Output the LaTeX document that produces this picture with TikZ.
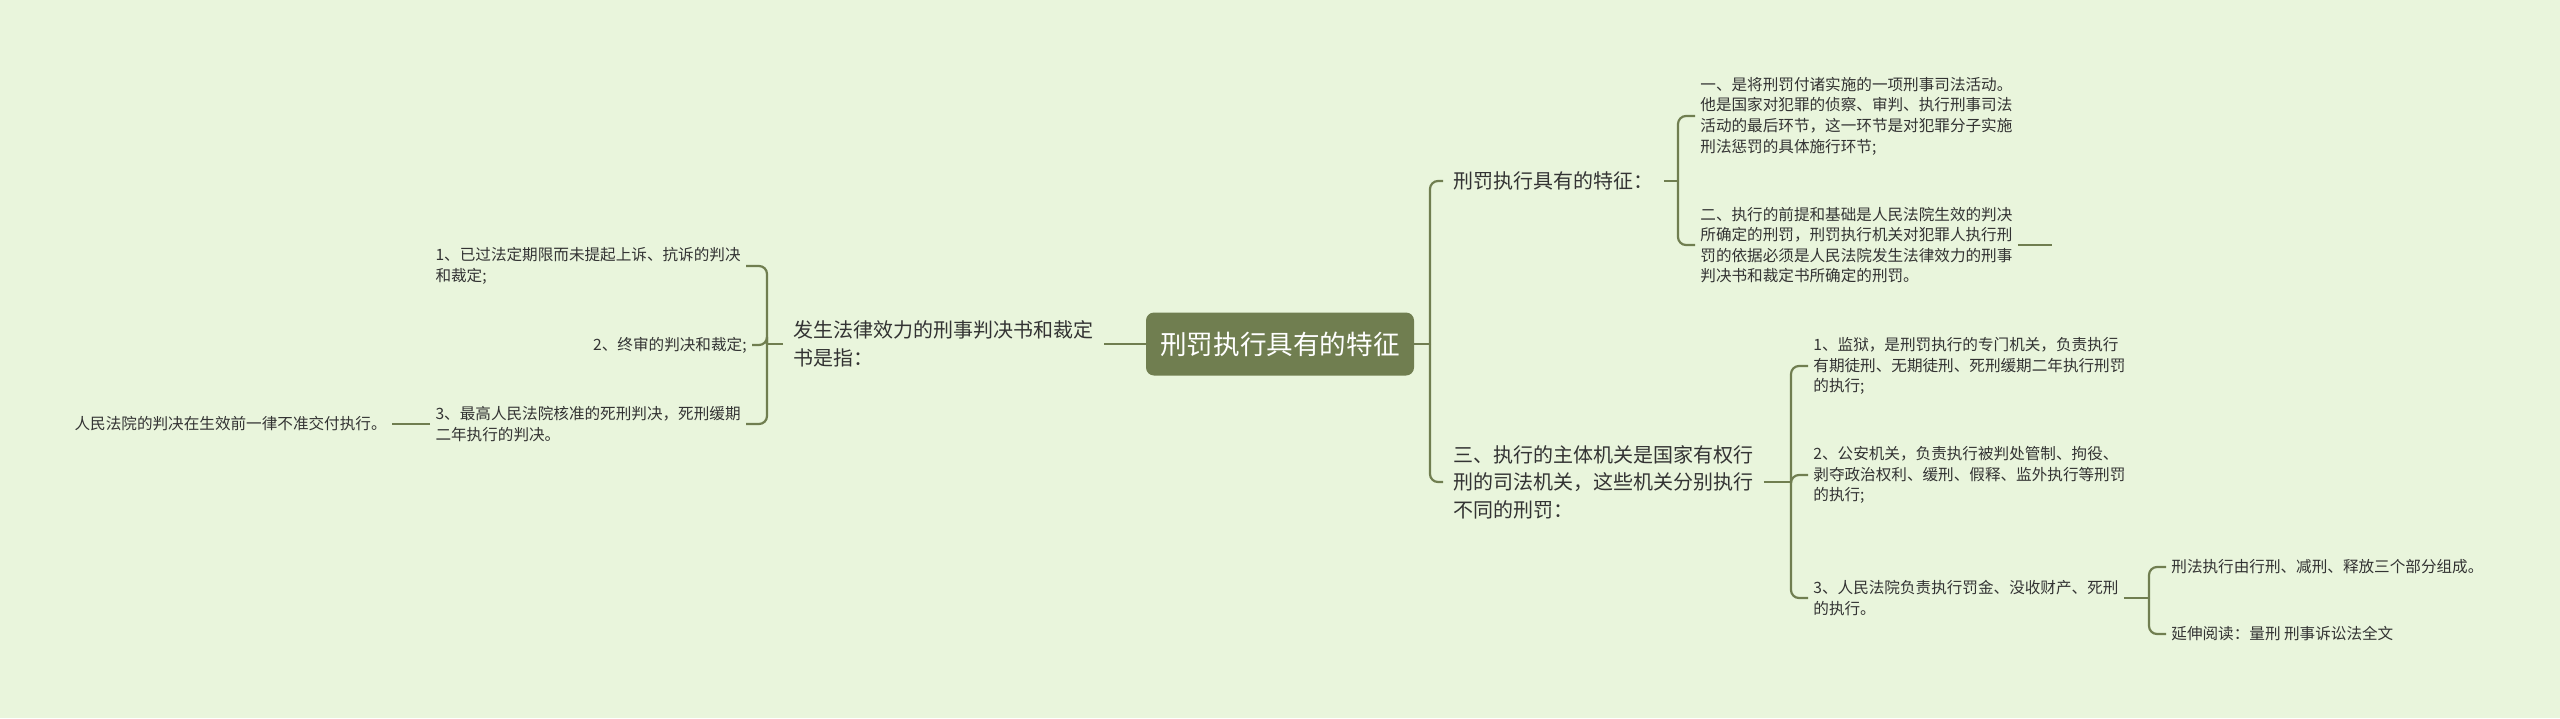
\documentclass[tikz,border=0pt]{standalone}
\usepackage{fontspec}
\usepackage{tikz}
\newfontfamily\cjk{Noto Sans CJK SC}
\definecolor{paper}{HTML}{E9F5DC}
\definecolor{stem}{HTML}{707E50}
\definecolor{ink}{HTML}{333333}

\begin{document}
\begin{tikzpicture}[x=0.5pt,y=-0.5pt,every node/.style={font=\cjk,text=ink},
    link/.style={draw=stem,line width=1.1pt,rounded corners=4pt},
    topic/.style={fill=stem,rounded corners=4pt,minimum width=134pt,minimum height=31.5pt,text=white,font=\cjk\fontsize{13.3}{16}\selectfont},
    branch/.style={inner xsep=5pt,inner ysep=2pt,align=left,font=\cjk\fontsize{10}{13.75}\selectfont},
    leaf/.style={inner xsep=2.5pt,inner ysep=2pt,align=left,font=\cjk\fontsize{7.8}{10.3}\selectfont}]
    \fill[paper] (0,0) rectangle (2560,718);
    \node[topic] (root) at (1280,344) {刑罚执行具有的特征};
    % left side
    \node[branch,anchor=west] (judg) at (783,344) {发生法律效力的刑事判决书和裁定\\书是指：};
    \node[leaf,anchor=east] (judg1) at (746,266) {1、已过法定期限而未提起上诉、抗诉的判决\\和裁定;};
    \node[leaf,anchor=east] (judg2) at (752,345) {2、终审的判决和裁定;};
    \node[leaf,anchor=east] (judg3) at (746,424) {3、最高人民法院核准的死刑判决，死刑缓期\\二年执行的判决。};
    \node[leaf,anchor=east] (court) at (392,424) {人民法院的判决在生效前一律不准交付执行。};
    \coordinate (jfork) at (767,344);
    \draw[link] (root.west) -- (judg.east);
    \draw[link] (judg.west) -- (jfork);
    \foreach \c in {judg1,judg2,judg3} \draw[link] (jfork) |- (\c.east);
    \draw[link] (judg3.west) -- (court.east);
    % right side
    \node[branch,anchor=west] (trait) at (1443,181) {刑罚执行具有的特征：};
    \node[branch,anchor=west] (organ) at (1443,482) {三、执行的主体机关是国家有权行\\刑的司法机关，这些机关分别执行\\不同的刑罚：};
    \coordinate (rfork) at (1430,344);
    \draw[link] (root.east) -- (rfork);
    \foreach \c in {trait,organ} \draw[link] (rfork) |- (\c.west);
    \node[leaf,anchor=west] (trait1) at (1695,116) {一、是将刑罚付诸实施的一项刑事司法活动。\\他是国家对犯罪的侦察、审判、执行刑事司法\\活动的最后环节，这一环节是对犯罪分子实施\\刑法惩罚的具体施行环节;};
    \node[leaf,anchor=west] (trait2) at (1695,245) {二、执行的前提和基础是人民法院生效的判决\\所确定的刑罚，刑罚执行机关对犯罪人执行刑\\罚的依据必须是人民法院发生法律效力的刑事\\判决书和裁定书所确定的刑罚。};
    \coordinate (tfork) at (1678,181);
    \coordinate (tend) at (2052,245);
    \draw[link] (trait.east) -- (tfork);
    \foreach \c in {trait1,trait2} \draw[link] (tfork) |- (\c.west);
    \draw[link] (trait2.east) -- (tend);
    \node[leaf,anchor=west] (organ1) at (1808,366) {1、监狱，是刑罚执行的专门机关，负责执行\\有期徒刑、无期徒刑、死刑缓期二年执行刑罚\\的执行;};
    \node[leaf,anchor=west] (organ2) at (1808,475) {2、公安机关，负责执行被判处管制、拘役、\\剥夺政治权利、缓刑、假释、监外执行等刑罚\\的执行;};
    \node[leaf,anchor=west] (organ3) at (1808,598) {3、人民法院负责执行罚金、没收财产、死刑\\的执行。};
    \coordinate (ofork) at (1791,482);
    \draw[link] (organ.east) -- (ofork);
    \foreach \c in {organ1,organ2,organ3} \draw[link] (ofork) |- (\c.west);
    \node[leaf,anchor=west] (stage) at (2166,567) {刑法执行由行刑、减刑、释放三个部分组成。};
    \node[leaf,anchor=west] (more) at (2166,634) {延伸阅读：量刑 刑事诉讼法全文};
    \coordinate (cfork) at (2149,598);
    \draw[link] (organ3.east) -- (cfork);
    \foreach \c in {stage,more} \draw[link] (cfork) |- (\c.west);
  \end{tikzpicture}
\end{document}
